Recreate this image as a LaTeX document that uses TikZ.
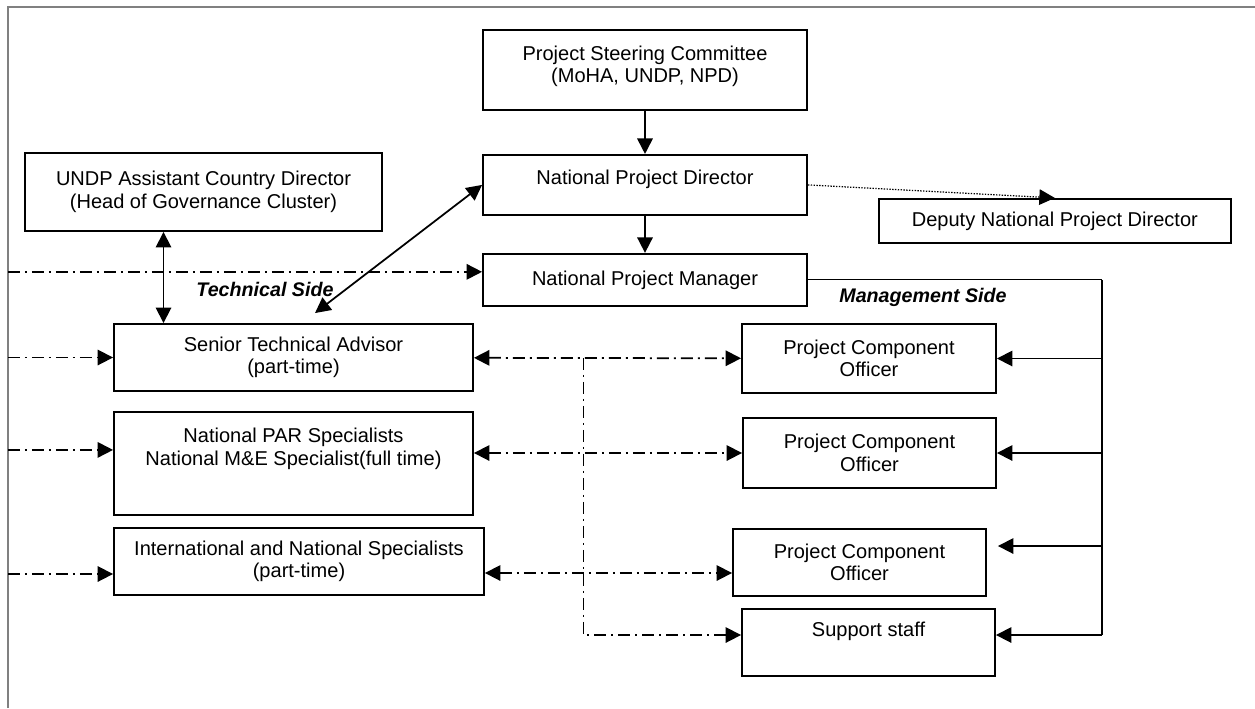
\documentclass[tikz,border=0pt]{standalone}
\usepackage{fontspec}
\setmainfont{Liberation Sans}
\usetikzlibrary{
  arrows.meta,
  positioning,
  calc,
}
\tikzset{
  >={Triangle[width=3.1mm,length=3.1mm]},
}

\begin{document}
\begin{tikzpicture}[
      x=0.02cm, y=-0.02cm,
      every node/.style={
        align=center,
        font=\fontsize{11.4}{12.8}\selectfont,
      },
      box/.style={draw,
        line width=1.1pt,
        inner sep=0pt,
        minimum width=5.06cm,
        minimum height=1.34cm,
      },
      side/.style={
        font=\fontsize{11.2}{12.8}\selectfont\bfseries\itshape,
      },
      link/.style={line width=1pt},
      dashdot/.style={line width=1pt,
        dash pattern=on 2.4mm off 1mm on 0.4mm off 1mm,
      },
      ]
      \useasboundingbox (0,0) rectangle (1255,708);
      \coordinate (edge) at (8,7);
      \draw[gray, line width=0.9pt] (8,708) -- (edge) -- (1255,7);

      % management chain
      \node[box, minimum width=6.48cm, minimum height=1.6cm] (psc) at (645,70)
        {Project Steering Committee \\ (MoHA, UNDP, NPD) \\[-6pt] \mbox{}};
      \node[box, minimum width=6.48cm, minimum height=1.2cm, below=0.86cm of psc] (npd)
        {National Project Director \\[-4pt] \mbox{}};
      \node[box, minimum width=6.48cm, minimum height=1.04cm, below=0.74cm of npd] (npm)
        {National Project Manager};
      \node[box, minimum width=7.04cm, minimum height=0.88cm, right=1.4cm of npd, yshift=-0.72cm] (dnpd)
        {Deputy National Project Director};

      % technical side
      \node[box, minimum width=7.14cm, minimum height=1.56cm] (acd) at (203.5,192)
        {UNDP Assistant Country Director \\ (Head of Governance Cluster)};
      \node[box, minimum width=7.18cm] (sta) at (293.5,357.5)
        {Senior Technical Advisor \\ (part-time)};
      \node[box, minimum width=7.18cm, minimum height=2.06cm, below=0.38cm of sta] (par)
        {National PAR Specialists \\ National M\&E Specialist(full time) \\[6pt] \mbox{}};
      \node[box, minimum width=7.4cm] (intl) at (299,561.5)
        {International and National Specialists \\ (part-time)};

      % management side
      \node[box, minimum width=5.08cm, minimum height=1.38cm] (pco1) at (869,358.5)
        {Project Component \\ Officer};
      \node[box, minimum height=1.4cm] (pco2) at (869.5,453)
        {Project Component \\ Officer};
      \node[box] (pco3) at (859.5,562.5)
        {Project Component \\ Officer};
      \node[box] (sup) at (868.5,642.5)
        {Support staff \\[2pt] \mbox{}};

      \node[side] (tech) at (265,289) {Technical Side};
      \node[side] (mgmt) at (923,297) {Management Side};

      \coordinate (npm-in) at ([yshift=0.16cm]npm.west);
      \coordinate (par-in) at ([yshift=0.27cm]par.west);
      \coordinate (intl-in) at ([yshift=-0.25cm]intl.west);
      \coordinate (par-out) at (pco2.west -| par.east);
      \coordinate (pco3-in) at ([yshift=-0.21cm]pco3.west);
      \coordinate (intl-out) at (pco3-in -| intl.east);
      \coordinate (split) at ($(sta.east)!0.41!(pco1.west)$);
      \coordinate (sup-in) at ([yshift=0.15cm]sup.west);
      \coordinate (bus) at (1102,635);
      \coordinate (pco3-m) at ([xshift=0.22cm, yshift=0.33cm]pco3.east);

      \path[->, link]
      (psc) edge (npd)
      (npd) edge (npm)
      ;
      \draw[->, line width=0.7pt, dash pattern=on 0.8pt off 0.8pt] (npd.east) -- (dnpd.north);
      \draw[<->, link] ([xshift=-0.8cm]acd.south) -- ([xshift=-0.8cm]acd.south |- sta.north);
      \draw[<->, link] ([xshift=0.43cm, yshift=0.2cm]sta.north) -- (npd.west);

      \path[->, dashdot]
      (edge |- npm-in) edge (npm-in)
      (edge |- sta.west) edge (sta.west)
      (edge |- par-in) edge (par-in)
      (edge |- intl-in) edge (intl-in)

      (sta) edge[<->] (pco1)
      (par-out) edge[<->] (pco2.west)
      (intl-out) edge[<->] (pco3-in)
      ;
      \draw[->, dashdot] (split) |- (sup-in);

      \draw[line width=0.7pt] (npm.east) -- (npm.east -| bus);
      \draw[link] (npm.east -| bus) -- (bus);
      \path[->, link]
      (bus |- pco1.east) edge (pco1.east)
      (bus |- pco2.east) edge (pco2.east)
      (bus |- pco3-m) edge (pco3-m)
      (bus) edge (bus -| sup.east)
      ;
    \end{tikzpicture}
\end{document}
